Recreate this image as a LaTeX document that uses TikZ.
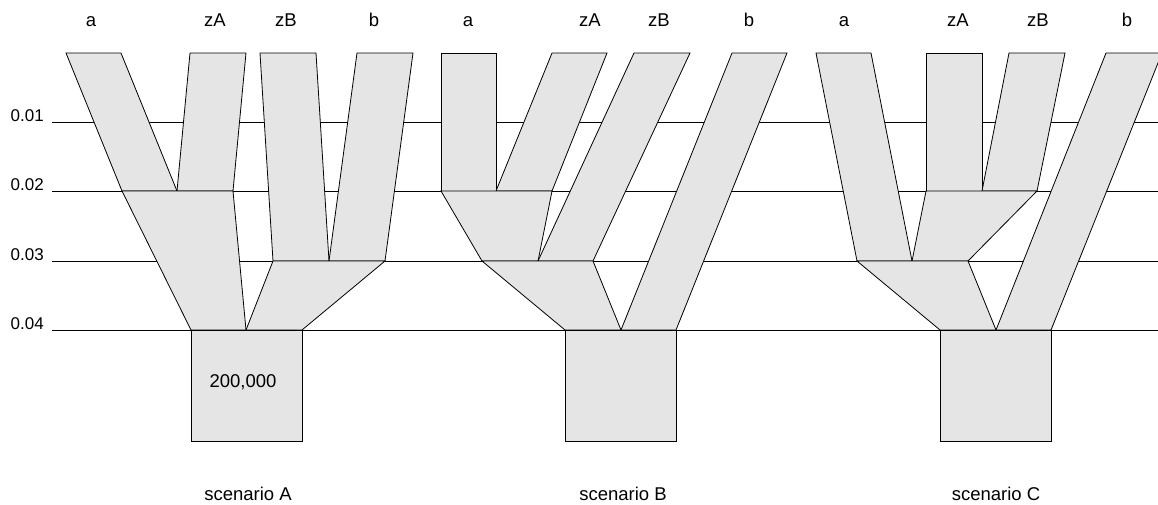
\documentclass[tikz,border=0pt]{standalone}
\usepackage{fontspec}
\setmainfont{Liberation Sans}
\begin{document}
\begin{tikzpicture}[x=1pt,y=-1pt,
  br/.style={fill=black!10,draw=black,line width=0.8pt,line join=miter},
  lvl/.style={draw=black,line width=0.8pt},
  lab/.style={font=\fontsize{18.5}{22}\selectfont,inner sep=0pt,anchor=base},
  ylab/.style={font=\fontsize{17}{20}\selectfont,inner sep=0pt,anchor=base east}]
\useasboundingbox (0,0) rectangle (1158,504);
\clip (0,0) rectangle (1158,504);
% level lines
\foreach \yy/\t [count=\i] in {122/0.01,191/0.02,261/0.03,330/0.04}{
  \node[ylab] (y\i) at (44,\yy-1) {\t};
  \draw[lvl] (52,\yy) -- (1158,\yy);
}
% ---------- scenario A
\draw[br] (66,53)--(121,53)--(177,191)--(122,191)--cycle;
\draw[br] (190,53)--(246,53)--(233,191)--(177,191)--cycle;
\draw[br] (122,191)--(233,191)--(246,330)--(191,330)--cycle;
\draw[br] (260,53)--(316,53)--(329,261)--(273,261)--cycle;
\draw[br] (357,53)--(413,53)--(385,261)--(329,261)--cycle;
\draw[br] (273,261)--(385,261)--(302,330)--(246,330)--cycle;
\draw[br] (191,330) rectangle (302,441);
\node[lab] (valA) at (243,387) {200,000};
\node[lab] (aA) at (91,26) {a};
\node[lab] (zAA) at (215,26) {zA};
\node[lab] (zBA) at (286,26) {zB};
\node[lab] (bA) at (374,26) {b};
\node[lab] (sA) at (248,500) {scenario A};
% ---------- scenario B
\draw[br] (441,53)--(496,53)--(496,191)--(441,191)--cycle;
\draw[br] (552,53)--(607,53)--(552,191)--(496,191)--cycle;
\draw[br] (441,191)--(552,191)--(538,261)--(482,261)--cycle;
\draw[br] (634,53)--(690,53)--(593,261)--(538,261)--cycle;
\draw[br] (482,261)--(593,261)--(621,330)--(565,330)--cycle;
\draw[br] (732,53)--(787,53)--(676,330)--(621,330)--cycle;
\draw[br] (565,330) rectangle (676,441);
\node[lab] (aB) at (468,26) {a};
\node[lab] (zAB) at (590,26) {zA};
\node[lab] (zBB) at (659,26) {zB};
\node[lab] (bB) at (749,26) {b};
\node[lab] (sB) at (623,500) {scenario B};
% ---------- scenario C
\draw[br] (816,53)--(871,53)--(912,261)--(857,261)--cycle;
\draw[br] (926,53)--(982,53)--(982,191)--(926,191)--cycle;
\draw[br] (1009,53)--(1065,53)--(1037,191)--(982,191)--cycle;
\draw[br] (926,191)--(1037,191)--(968,261)--(912,261)--cycle;
\draw[br] (857,261)--(968,261)--(996,330)--(940,330)--cycle;
\draw[br] (1106,53)--(1162,53)--(1051,330)--(996,330)--cycle;
\draw[br] (940,330) rectangle (1051,441);
\node[lab] (aC) at (844,26) {a};
\node[lab] (zAC) at (958,26) {zA};
\node[lab] (zBC) at (1038,26) {zB};
\node[lab] (bC) at (1127,26) {b};
\node[lab] (sC) at (996,500) {scenario C};
\end{tikzpicture}
\end{document}
